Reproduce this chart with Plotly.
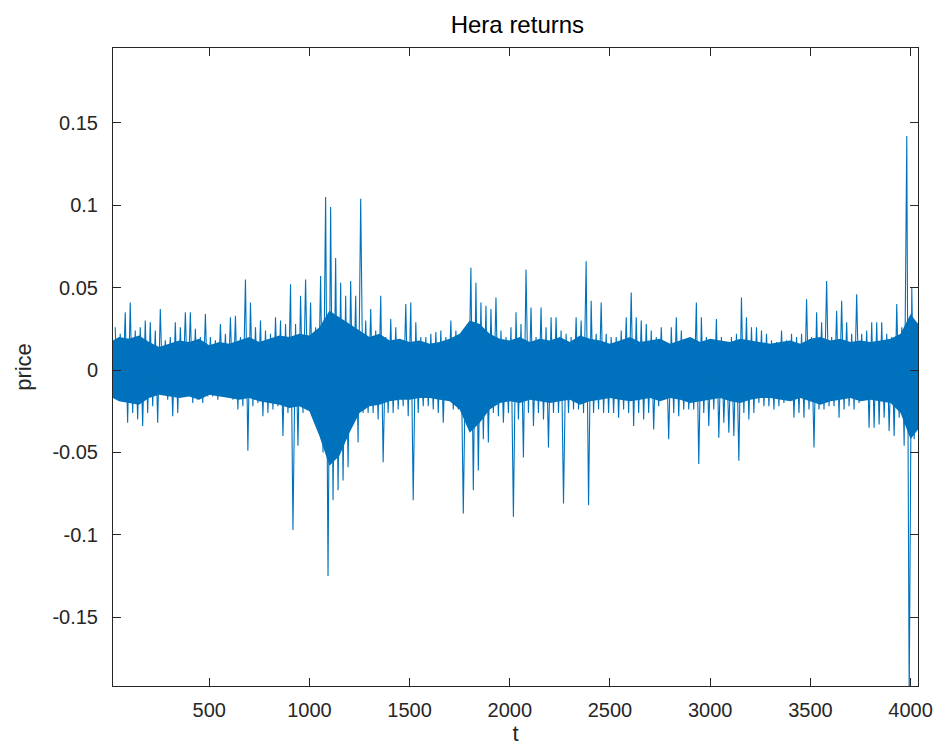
import plotly.graph_objects as go

# ---- data (returns, in units of 1e-3), read per bin of 25 observations ----
BIN_START = 25          # first bin starts at t=25
BIN_WIDTH = 25
# per-bin upper extreme (1e-3)
bin_high = [
    26, 22, 35, 41, 24, 26, 30, 29, 24, 37, 18, 20, 29, 26, 35, 35, 25, 20, 34, 20,
    18, 28, 22, 32, 33, 20, 55, 41, 26, 30, 24, 22, 32,
    30, 28, 52, 28, 45, 55, 41, 26, 57, 105, 99, 68, 53, 45, 54, 45, 104, 30, 37, 24,
    45, 20, 31, 26, 18, 40, 41, 29, 20, 20, 22, 23,
    24, 20, 30, 24, 22, 22, 62, 53, 41, 39, 37, 44, 24, 20, 26, 35, 28, 61, 38, 20,
    38, 26, 32, 32, 24, 22, 20, 32, 30, 66, 42, 22, 41,
    22, 20, 20, 24, 32, 47, 32, 30, 28, 24, 20, 26, 16, 26, 32, 24, 18, 18, 41, 32,
    20, 18, 31, 20, 16, 20, 22, 44, 32, 26, 26, 24,
    22, 18, 17, 24, 18, 22, 20, 22, 43, 20, 35, 29, 54, 20, 36, 42, 29, 22, 46, 22,
    24, 29, 29, 29, 22, 20, 40, 26, 142, 50, 29,
]
# per-bin lower extreme (1e-3)
bin_low = [
    -15, -18, -32, -26, -30, -34, -26, -22, -32, -14, -18, -28, -26, -16, -14, -20, -18, -20, -16, -16,
    -18, -14, -16, -18, -24, -22, -49, -22, -20, -28, -26, -24, -22,
    -40, -26, -97, -46, -26, -24, -28, -30, -50, -125, -79, -73, -67, -59, -30, -44, -26, -26, -26, -30,
    -56, -26, -26, -24, -22, -28, -79, -26, -22, -22, -24, -26,
    -32, -18, -24, -24, -87, -26, -73, -61, -42, -44, -26, -28, -32, -26, -89, -30, -53, -26, -34, -26,
    -30, -47, -26, -26, -81, -26, -24, -24, -26, -82, -26, -24, -26,
    -26, -26, -29, -24, -26, -34, -26, -30, -26, -36, -22, -18, -42, -26, -28, -24, -24, -24, -57, -26,
    -34, -24, -41, -32, -38, -40, -55, -26, -30, -26, -20, -22,
    -22, -24, -22, -20, -18, -29, -26, -29, -24, -47, -24, -24, -22, -22, -29, -24, -22, -24, -20, -18,
    -35, -35, -33, -29, -37, -40, -29, -46, -200, -42, -40,
]
# dense core of the series (1e-3), read every 50 observations
core_t = [20] + list(range(50, 4001, 50)) + [4037]
core_high = [
    18, 20, 19, 21, 17, 14, 16, 18, 17, 19, 15, 17, 16, 18, 20, 17, 19, 21, 20, 22,
    21, 26, 36, 32, 28, 24, 20, 22, 18, 19, 17, 18, 16, 17, 19, 22, 30, 28, 22, 19,
    18, 20, 17, 19, 18, 20, 17, 21, 19, 18, 16, 18, 20, 17, 18, 19, 16, 18, 20, 17,
    19, 18, 17, 19, 18, 17, 16, 17, 18, 16, 19, 20, 18, 19, 17, 18, 17, 18, 19, 22,
    34, 28,
]
core_low = [
    -17, -19, -20, -21, -17, -15, -16, -17, -16, -18, -15, -16, -17, -18, -17, -19, -20, -21, -23, -22,
    -25, -40, -58, -52, -38, -26, -22, -21, -19, -18, -18, -17, -17, -18, -19, -24, -38, -32, -24, -20,
    -19, -20, -18, -19, -20, -19, -18, -21, -19, -18, -17, -18, -19, -18, -17, -19, -17, -18, -20, -19,
    -18, -17, -19, -20, -18, -17, -17, -18, -19, -17, -19, -21, -19, -18, -17, -19, -18, -19, -20, -26,
    -42, -36,
]

x_ticks = [500, 1000, 1500, 2000, 2500, 3000, 3500, 4000]
x_ticktext = ["500", "1000", "1500", "2000", "2500", "3000", "3500", "4000"]
y_ticks = [-0.15, -0.1, -0.05, 0, 0.05, 0.1, 0.15]
y_ticktext = ["-0.15", "-0.1", "-0.05", "0", "0.05", "0.1", "0.15"]

BLUE = "#0072BD"
AX = "#262626"
FONT = "Liberation Sans, Arial, Helvetica, sans-serif"

# build the series: alternate the high and low extreme of each bin
ts, vals = [], []
for k, (h, l) in enumerate(zip(bin_high, bin_low)):
    start = BIN_START + k * BIN_WIDTH
    ts += [start + 6, start + 18]
    vals += [h / 1000.0, l / 1000.0]

fig = go.Figure()
fig.add_trace(go.Scatter(
    x=core_t + core_t[::-1],
    y=[v / 1000.0 for v in core_high] + [v / 1000.0 for v in core_low[::-1]],
    fill="toself", fillcolor=BLUE, line=dict(width=0, color=BLUE),
    mode="lines", hoverinfo="skip", showlegend=False))
fig.add_trace(go.Scatter(x=ts, y=vals, mode="lines",
                         line=dict(color=BLUE, width=1.1), showlegend=False))

axis_common = dict(showgrid=False, zeroline=False, showline=True, mirror="ticks",
                   linecolor=AX, linewidth=1, ticks="inside", ticklen=8, tickwidth=1,
                   tickcolor=AX, tickfont=dict(family=FONT, size=20, color=AX))

fig.update_layout(
    width=945, height=754,
    margin=dict(l=113, r=23, t=48, b=68),
    paper_bgcolor="white", plot_bgcolor="white",
    title=dict(text="Hera returns", x=0.5475, xanchor="center", y=0.967, yanchor="middle",
               yref="container", font=dict(family=FONT, size=24, color="#000000")),
    xaxis=dict(range=[20, 4037], tickvals=x_ticks, ticktext=x_ticktext,
               ticklabelstandoff=6,
               title=dict(text="t", standoff=4, font=dict(family=FONT, size=22, color=AX)),
               **axis_common),
    yaxis=dict(range=[-0.1917, 0.1954], tickvals=y_ticks, ticktext=y_ticktext,
               ticklabelstandoff=10,
               title=dict(text="price", standoff=14, font=dict(family=FONT, size=22, color=AX)),
               **axis_common),
)
fig.write_html("out.html")
